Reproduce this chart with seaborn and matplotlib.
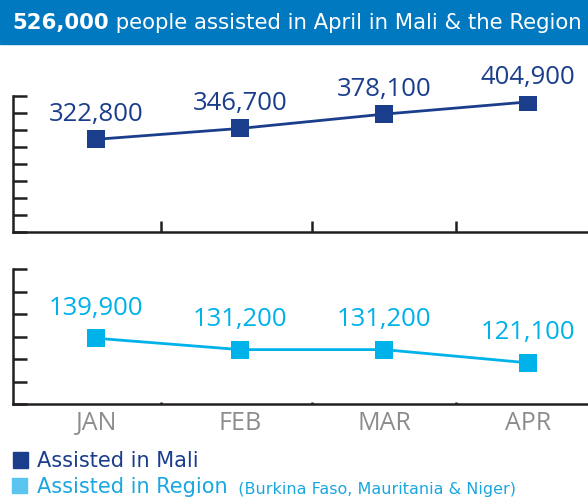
import numpy as np
import pandas as pd
import matplotlib.pyplot as plt
import seaborn as sns
from matplotlib.patches import Rectangle

# Datos
months = ["JAN", "FEB", "MAR", "APR"]
mali = [322800, 346700, 378100, 404900]
region = [139900, 131200, 131200, 121100]

# Colores
c_mali = "#1B3E8C"
c_region = "#00B2EA"
c_axis = "#231F20"
c_month = "#8C8C8C"

sns.set_style("ticks")
plt.rcParams["font.family"] = ["DejaVu Sans"]

W, H = 588, 500
fig = plt.figure(figsize=(W / 100, H / 100), dpi=100)

def px_axes(left, top, right, bottom):
    return fig.add_axes([left / W, 1 - bottom / H, (right - left) / W, (bottom - top) / H])

ax1 = px_axes(13, 96, 588, 232)
ax2 = px_axes(13, 269, 588, 404)

df = pd.DataFrame({"month": months, "mali": mali, "region": region})

def draw(ax, col, color, ylim, nticks, lab_off, minor_len):
    sns.lineplot(data=df, x="month", y=col, ax=ax, color=color, linewidth=2,
                 marker="s", markersize=12.5, markeredgewidth=0, sort=False)
    for i, v in enumerate(df[col]):
        ax.annotate(f"{v:,}", (i, v), xytext=(0, lab_off), textcoords="offset points",
                    ha="center", va="baseline", color=color, fontsize=18.5,
                    family="Open Sans", annotation_clip=False)
    ax.set_xlim(-0.58, 3.42)
    ax.set_ylim(*ylim)
    ax.set_yticks(np.linspace(ylim[0], ylim[1], nticks))
    ax.set_yticklabels([])
    ax.set_xticks(range(len(months)))
    ax.set_xticks([0.45, 1.5, 2.5], minor=True)
    ax.tick_params(axis="y", direction="in", length=10, width=1.8, color=c_axis)
    ax.tick_params(axis="x", which="major", length=0)
    ax.tick_params(axis="x", which="minor", direction="in", length=minor_len,
                   width=1.8, color=c_axis)
    for s in ["top", "right"]:
        ax.spines[s].set_visible(False)
    for s in ["left", "bottom"]:
        ax.spines[s].set_color(c_axis)
        ax.spines[s].set_linewidth(1.8)
    ax.set_xlabel("")
    ax.set_ylabel("")
    ax.set_facecolor("none")

draw(ax1, "mali", c_mali, (119000, 418000), 9, 13, 8)
ax1.set_xticklabels([])

draw(ax2, "region", c_region, (89500, 193000), 7, 17, 1.5)
ax2.set_xticklabels(months, color=c_month, fontsize=18, family="Open Sans")
ax2.tick_params(axis="x", which="major", pad=5)

# Banner del titulo
fig.patches.append(Rectangle((0, 1 - 44 / H), 1, 44 / H, transform=fig.transFigure,
                             color="#0079C1", zorder=-1))
t1 = fig.text(12 / W, 1 - 29 / H, "526,000", color="white", fontsize=15.3,
              fontweight="bold", va="baseline")
ax1.annotate(" people assisted in April in Mali & the Region", xy=(1, 0), xycoords=t1,
             va="bottom", ha="left", color="white", fontsize=15.3)

# Leyenda
fig.patches.append(Rectangle((13 / W, 1 - 468 / H), 15 / W, 16 / H,
                             transform=fig.transFigure, color=c_mali))
fig.patches.append(Rectangle((12 / W, 1 - 493 / H), 15 / W, 15 / H,
                             transform=fig.transFigure, color="#5BC5F2"))
fig.text(37 / W, 1 - 467 / H, "Assisted in Mali", color=c_mali, fontsize=15,
         va="baseline")
t2 = fig.text(37 / W, 1 - 493 / H, "Assisted in Region", color="#1AA7E0",
              fontsize=15, va="baseline")
ax1.annotate("  (Burkina Faso, Mauritania & Niger)", xy=(1, 0), xycoords=t2,
             va="bottom", ha="left", color="#1AA7E0", fontsize=11.5)

fig.savefig("out.png", dpi=100)
